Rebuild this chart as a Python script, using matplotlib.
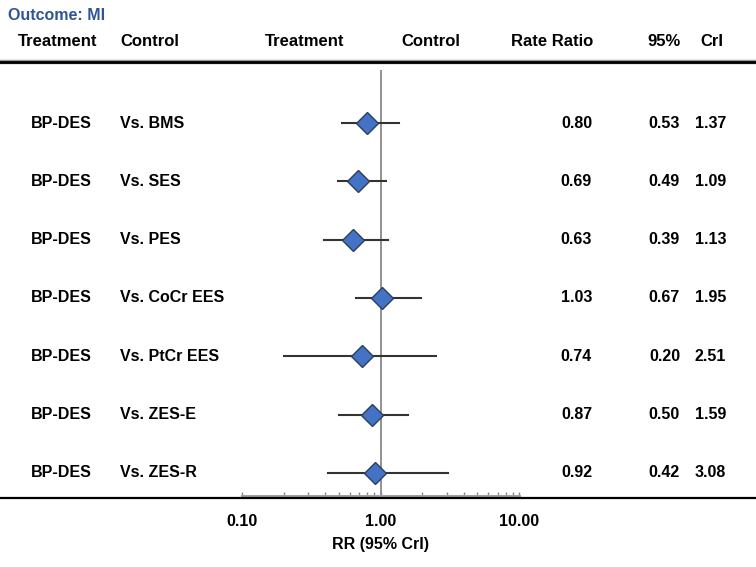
import matplotlib.pyplot as plt
from matplotlib.lines import Line2D
import matplotlib.ticker as mticker
import numpy as np

plt.rcParams['font.family'] = ['Liberation Sans', 'DejaVu Sans']

# datos
tratamiento = ["BP-DES"] * 7
controles = ["Vs. BMS", "Vs. SES", "Vs. PES", "Vs. CoCr EES",
             "Vs. PtCr EES", "Vs. ZES-E", "Vs. ZES-R"]
rr = [0.80, 0.69, 0.63, 1.03, 0.74, 0.87, 0.92]
inf = [0.53, 0.49, 0.39, 0.67, 0.20, 0.50, 0.42]
sup = [1.37, 1.09, 1.13, 1.95, 2.51, 1.59, 3.08]
ticks = [0.1, 1, 10]
tick_labels = ["0.10", "1.00", "10.00"]

W, H = 756, 567
fig = plt.figure(figsize=(W / 100, H / 100), dpi=100)

# ejes del forest plot (pixeles 242-519 en x, 70-496 en y)
ax = fig.add_axes([242 / W, 1 - 496 / H, (519 - 242) / W, (496 - 70) / H])
n = len(rr)
ys = np.arange(n, 0, -1)
ax.set_xscale('log')
ax.set_xlim(0.1, 10)
ax.set_ylim(1 - 23 / 58.33, n + 53 / 58.33)

ax.axvline(1, color='#7f7f7f', lw=1.2, zorder=1)
for y, r, lo, hi in zip(ys, rr, inf, sup):
    ax.plot([lo, hi], [y, y], color='#333333', lw=1.5, zorder=2)
ax.plot(rr, ys, 'D', ms=10.8, mfc='#4472C4', mec='#2B3F5C', mew=1.0, zorder=3)

for s in ['top', 'right', 'left']:
    ax.spines[s].set_visible(False)
ax.spines['bottom'].set_color('#a0a0a0')
ax.spines['bottom'].set_linewidth(2.2)
ax.set_yticks([])
ax.set_xticks(ticks)
ax.set_xticklabels(tick_labels, fontsize=11.5, fontweight='bold')
ax.xaxis.set_minor_locator(mticker.LogLocator(base=10, subs=np.arange(2, 10)))
ax.xaxis.set_minor_formatter(mticker.NullFormatter())
ax.tick_params(axis='x', which='both', direction='in', color='#888888', length=3, width=1.0, pad=13)
ax.set_xlabel("RR (95% CrI)", fontsize=11.5, fontweight='bold', labelpad=6)

# lineas horizontales
fig.add_artist(Line2D([0, 1], [1 - 497.5 / H] * 2, color='black', lw=1.6))
fig.add_artist(Line2D([0, 1], [1 - 62 / H] * 2, color='#999999', lw=3.2))
fig.add_artist(Line2D([0, 1], [1 - 62 / H] * 2, color='black', lw=2.0))

# textos
fig.text(8 / W, 1 - 15 / H, "Outcome: MI", color='#2F5597', fontsize=11.5,
         fontweight='bold', va='center', ha='left')
cab = [("Treatment", 18), ("Control", 120), ("Treatment", 265), ("Control", 401),
       ("Rate Ratio", 511), ("95%", 647), ("CrI", 700)]
for t, x in cab:
    fig.text(x / W, 1 - 41 / H, t, fontsize=12, fontweight='bold', va='center', ha='left')

for i in range(n):
    yp = 1 - (123 + 58.33 * i) / H
    fig.text(31 / W, yp, tratamiento[i], fontsize=11.5, fontweight='bold', va='center')
    fig.text(120 / W, yp, controles[i], fontsize=11.5, fontweight='bold', va='center')
    fig.text(592 / W, yp, f"{rr[i]:.2f}", fontsize=11.5, fontweight='bold', va='center', ha='right')
    fig.text(680 / W, yp, f"{inf[i]:.2f}", fontsize=11.5, fontweight='bold', va='center', ha='right')
    fig.text(726 / W, yp, f"{sup[i]:.2f}", fontsize=11.5, fontweight='bold', va='center', ha='right')

fig.savefig("out.png", dpi=100)
